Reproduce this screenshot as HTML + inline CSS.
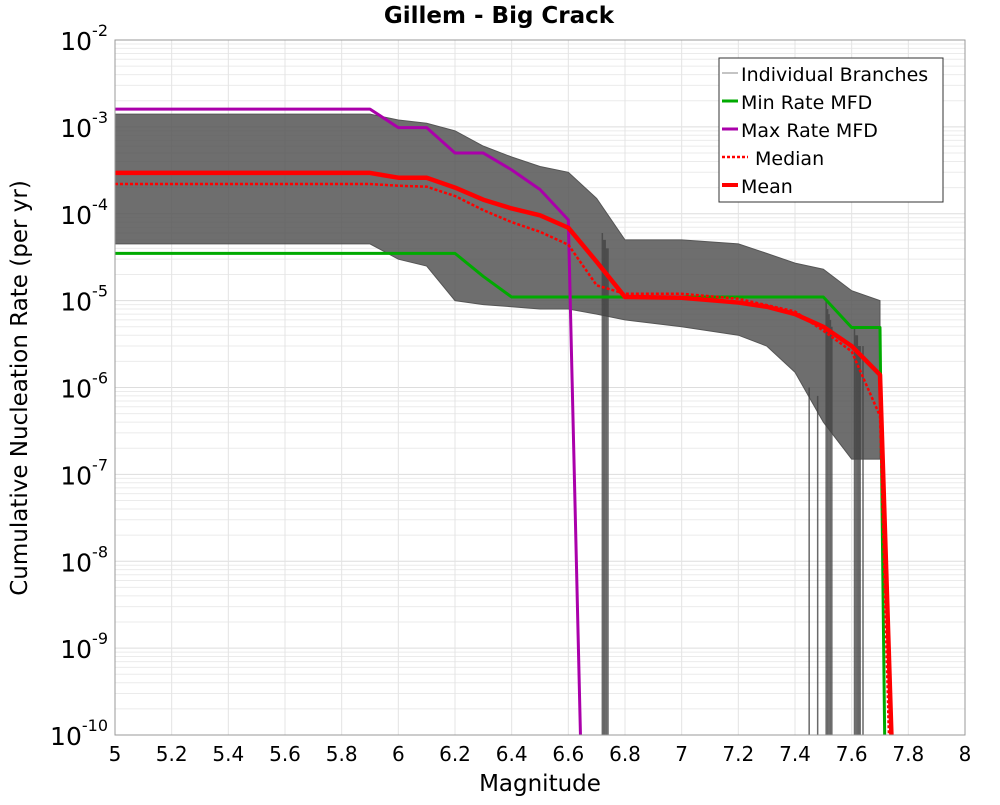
<!DOCTYPE html>
<html><head><meta charset="utf-8"><style>
body{margin:0;background:#fff;font-family:"Liberation Sans","DejaVu Sans",sans-serif}
svg text{font-family:"DejaVu Sans","Liberation Sans",sans-serif}
</style></head><body>
<svg id="chart" width="1000" height="800" xmlns="http://www.w3.org/2000/svg">
<text x="499" y="23" text-anchor="middle" font-size="23" font-weight="bold">Gillem - Big Crack</text>
<g id="grid"></g>
<g id="branches" clip-path="url(#clip)"></g>
<g id="series" clip-path="url(#clip)"></g>
<defs><clipPath id="clip"><rect x="115" y="40" width="850" height="695"/></clipPath></defs>
<rect x="115" y="40" width="850" height="695" fill="none" stroke="#999" stroke-width="1"/>
<g id="axes"></g>
<text x="540" y="791" text-anchor="middle" font-size="23">Magnitude</text>
<text transform="translate(27,388) rotate(-90)" text-anchor="middle" font-size="23">Cumulative Nucleation Rate (per yr)</text>
<g>
<rect x="719" y="58" width="224" height="144" fill="#fff" stroke="#333" stroke-width="1"/>
<line x1="722" y1="73" x2="738" y2="73" stroke="#888" stroke-width="1"/><text x="741" y="81" font-size="19">Individual Branches</text>
<line x1="722" y1="101" x2="738" y2="101" stroke="#00aa00" stroke-width="3"/><text x="741" y="109" font-size="19">Min Rate MFD</text>
<line x1="722" y1="129" x2="738" y2="129" stroke="#aa00aa" stroke-width="3"/><text x="741" y="137" font-size="19">Max Rate MFD</text>
<line x1="722" y1="157" x2="748" y2="157" stroke="#ff0000" stroke-width="2.5" stroke-dasharray="3,2"/><text x="755" y="165" font-size="19">Median</text>
<line x1="722" y1="185" x2="738" y2="185" stroke="#ff0000" stroke-width="4"/><text x="741" y="193" font-size="19">Mean</text>
</g>
</svg>
<script>
const mags=[5,5.9,6.0,6.1,6.2,6.3,6.4,6.5,6.6,6.7,6.8,7.0,7.2,7.3,7.4,7.5,7.6,7.7];
const maxM=[5,5.9,6.0,6.1,6.2,6.3,6.4,6.5,6.6,6.65];
const maxRate=[1.6e-3,1.6e-3,9.8e-4,9.8e-4,5e-4,5e-4,3.2e-4,1.9e-4,8.5e-5,1e-11];
const minM=[5,6.2,6.3,6.4,7.5,7.6,7.7,7.72];
const minRate=[3.5e-5,3.5e-5,1.9e-5,1.1e-5,1.1e-5,4.9e-6,4.9e-6,1e-11];
const meanM=[5,5.9,6.0,6.1,6.2,6.3,6.4,6.5,6.6,6.7,6.8,7.0,7.2,7.3,7.4,7.5,7.6,7.7,7.75];
const meanRate=[2.95e-4,2.95e-4,2.6e-4,2.6e-4,2.0e-4,1.45e-4,1.15e-4,9.6e-5,6.9e-5,2.8e-5,1.1e-5,1.08e-5,9.5e-6,8.5e-6,7e-6,5e-6,3e-6,1.4e-6,1e-11];
const medM=[5,5.9,6.0,6.1,6.2,6.3,6.4,6.5,6.6,6.7,6.8,7.0,7.2,7.4,7.5,7.6,7.7,7.74];
const medRate=[2.2e-4,2.2e-4,2.1e-4,2.05e-4,1.6e-4,1.1e-4,8e-5,6.2e-5,4.4e-5,1.5e-5,1.2e-5,1.2e-5,1.05e-5,7.5e-6,4.5e-6,2.6e-6,4.7e-7,1e-11];
const envM=[5,5.9,6.0,6.1,6.2,6.3,6.4,6.5,6.6,6.7,6.8,7.0,7.2,7.3,7.4,7.5,7.6,7.7];
const envUpper=[1.4e-3,1.4e-3,1.2e-3,1.1e-3,9e-4,6e-4,4.5e-4,3.5e-4,3e-4,1.5e-4,5e-5,5e-5,4.5e-5,3.5e-5,2.7e-5,2.3e-5,1.3e-5,1e-5];
const envLower=[4.5e-5,4.5e-5,3e-5,2.5e-5,1e-5,9e-6,8.5e-6,8e-6,8e-6,7e-6,6e-6,5e-6,4e-6,3e-6,1.5e-6,4e-7,1.5e-7,1.5e-7];
const dropM=[6.72,6.725,6.73,6.735,6.74,7.45,7.48,7.51,7.515,7.52,7.525,7.53,7.61,7.615,7.62,7.625,7.63,7.64];
const dropTop=[6e-5,5e-5,5e-5,4e-5,4e-5,1e-6,8e-7,1e-5,8e-6,7e-6,6e-6,5e-6,5e-6,4e-6,4e-6,3e-6,3e-6,3e-6];
const xTicks=[5,5.2,5.4,5.6,5.8,6,6.2,6.4,6.6,6.8,7,7.2,7.4,7.6,7.8,8];
const yExps=[-2,-3,-4,-5,-6,-7,-8,-9,-10];
const X=m=>115+(m-5)*850/3;
const Y=v=>40+(-2-Math.log10(v))*695/8;
const NS="http://www.w3.org/2000/svg";
function mk(tag,attrs,parent){const e=document.createElementNS(NS,tag);for(const k in attrs)e.setAttribute(k,attrs[k]);parent.appendChild(e);return e;}
const grid=document.getElementById('grid'),axes=document.getElementById('axes'),br=document.getElementById('branches'),se=document.getElementById('series');
for(let e=-10;e<-2;e++)for(let k=2;k<=9;k++){const y=Y(k*Math.pow(10,e));const l=mk('line',{x1:115,x2:965,y1:y,y2:y,stroke:'#ebebeb','stroke-width':1},grid);

}
yExps.forEach(e=>{const y=Y(Math.pow(10,e));const l=mk('line',{x1:115,x2:965,y1:y,y2:y,stroke:'#ddd','stroke-width':1},grid);


const t=mk('text',{x:108,y:y+10,'text-anchor':'end','font-size':25},axes);


t.textContent='10';const s=mk('tspan',{dy:-14,'font-size':16},t);s.textContent=String(e);});
xTicks.forEach(m=>{const x=X(m);const l=mk('line',{x1:x,x2:x,y1:40,y2:735,stroke:'#e4e4e4','stroke-width':1},grid);


const t=mk('text',{x:x,y:761,'text-anchor':'middle','font-size':20},axes);


t.textContent=String(m);});
let d='';envM.forEach((m,i)=>{d+=(i?'L':'M')+X(m)+','+Y(envUpper[i]);});
for(let i=envM.length-1;i>=0;i--)d+='L'+X(envM[i])+','+Y(envLower[i]);
const env=mk('path',{d:d+'Z',fill:'#555','fill-opacity':0.85,stroke:'#555','stroke-width':1},br);


dropM.forEach((m,i)=>{const l=mk('line',{x1:X(m),x2:X(m),y1:Y(dropTop[i]),y2:735,stroke:'#444','stroke-width':1.5,'stroke-opacity':0.8},br);

});
function line(ms,vs,attrs,name){const pts=ms.map((m,i)=>X(m)+','+Y(vs[i])).join(' ');const p=mk('polyline',Object.assign({points:pts,fill:'none','stroke-linejoin':'round'},attrs),se);

}
line(minM,minRate,{stroke:'#00aa00','stroke-width':3},'min-rate-line');
line(maxM,maxRate,{stroke:'#aa00aa','stroke-width':3},'max-rate-line');
line(medM,medRate,{stroke:'#ff0000','stroke-width':2.5,'stroke-dasharray':'3,2'},'median-line');
line(meanM,meanRate,{stroke:'#ff0000','stroke-width':4.5},'mean-line');
</script>
</body></html>
